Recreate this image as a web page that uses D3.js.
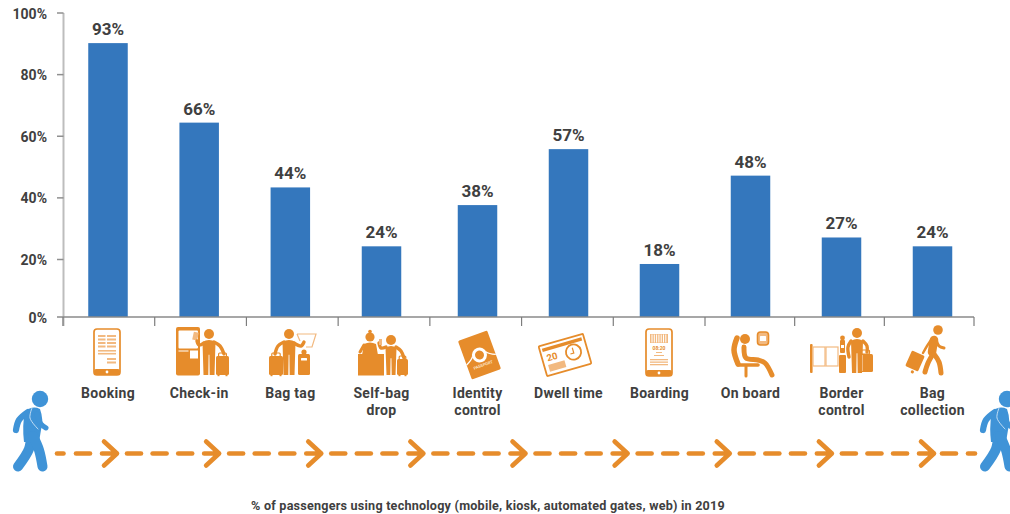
<!DOCTYPE html>
<html>
<head>
<meta charset="utf-8">
<script src="https://cdn.jsdelivr.net/npm/d3@7/dist/d3.min.js"></script>
<style>
  html, body { margin: 0; padding: 0; background: #fff; }
  svg { display: block; }
  text { font-family: Roboto, "Liberation Sans", sans-serif; font-weight: 700; fill: #404040; }
</style>
</head>
<body>
<div id="chart"></div>
<script>
// Passenger journey: share of passengers using technology at each step.
const categories = ["Booking", "Check-in", "Bag tag", "Self-bag drop", "Identity control",
  "Dwell time", "Boarding", "On board", "Border control", "Bag collection"];
const values = [93, 66, 44, 24, 38, 57, 18, 48, 27, 24];
const labelLines = [["Booking"], ["Check-in"], ["Bag tag"], ["Self-bag", "drop"], ["Identity", "control"],
  ["Dwell time"], ["Boarding"], ["On board"], ["Border", "control"], ["Bag", "collection"]];
const yTicks = [0, 20, 40, 60, 80, 100];
const caption = "% of passengers using technology (mobile, kiosk, automated gates, web) in 2019";
const journeySteps = [0, 1, 2, 3, 4, 5, 6, 7, 8];
const dashSlots = [1, 2, 3];

const ORANGE = "#e68c2b", PALE = "#f2b980", BAR = "#3477bd", WALKER = "#3f93d7";
const W = 1010, H = 514, BASE = 317, BAR_W = 39.5;

const svg = d3.select("#chart").append("svg").attr("width", W).attr("height", H);

// Scales: step centres, bar lengths, and the printed percentage axis.
const xIndex = d3.scaleLinear().domain([0, 3, 4, 9]).range([108, 381.5, 477.5, 932.5]);
const x = name => xIndex(categories.indexOf(name));
const yBar = d3.scaleLinear().domain([0, 100]).range([BASE, 22.5]);
const yAxis = d3.scaleLinear().domain([0, 20, 100]).range([BASE, 259.5, 13]);
const xTick = d3.scaleLinear().domain([0, 7, 10]).range([63, 705, 974]);

// Vertical axis
const axisL = svg.append("g");
axisL.append("line").attr("x1", 63.5).attr("x2", 63.5).attr("y1", 13).attr("y2", 326)
  .attr("stroke", "#bdbdbd").attr("stroke-width", 2);
axisL.selectAll("line.tick").data(yTicks.slice(1)).join("line").attr("class", "tick")
  .attr("x1", 57).attr("x2", 63.5).attr("y1", yAxis).attr("y2", yAxis)
  .attr("stroke", "#8f8f8f").attr("stroke-width", 1.5);
axisL.selectAll("text").data(yTicks).join("text")
  .attr("x", 47).attr("y", d => yAxis(d) + 0.5).attr("dy", "0.36em").attr("text-anchor", "end")
  .style("font-size", "14px").text(d => d + "%");

// Bars and their value labels
svg.selectAll("rect.bar").data(categories).join("rect").attr("class", "bar")
  .attr("x", d => x(d) - BAR_W / 2).attr("width", BAR_W)
  .attr("y", (d, i) => yBar(values[i])).attr("height", (d, i) => BASE - yBar(values[i]))
  .attr("fill", BAR);
svg.selectAll("text.val").data(categories).join("text").attr("class", "val")
  .attr("x", d => x(d)).attr("y", (d, i) => yBar(values[i]) - 8)
  .attr("text-anchor", "middle").style("font-size", "17px").text((d, i) => values[i] + "%");

// Horizontal baseline with ticks between the steps
svg.append("line").attr("x1", 57).attr("x2", 974).attr("y1", BASE).attr("y2", BASE)
  .attr("stroke", "#8a8a8a").attr("stroke-width", 1.5);
svg.selectAll("line.xt").data(d3.range(11)).join("line").attr("class", "xt")
  .attr("x1", xTick).attr("x2", xTick).attr("y1", BASE).attr("y2", 326)
  .attr("stroke", "#7d7d7d").attr("stroke-width", 1.2);

// Step names
const names = svg.selectAll("text.name").data(categories).join("text").attr("class", "name")
  .attr("text-anchor", "middle").style("font-size", "14px").style("letter-spacing", "0.3px")
  .attr("y", 398);
names.selectAll("tspan").data((d, i) => labelLines[i].map(t => ({ t, c: d }))).join("tspan")
  .attr("x", d => x(d.c))
  .attr("dy", (d, i) => i ? 17 : 0).text(d => d.t);

// Icon drawing helpers
const icons = svg.append("g");
const box = (x0, y0, w, h, r, fill, stroke, sw, g = icons) => g.append("rect")
  .attr("x", x0).attr("y", y0).attr("width", w).attr("height", h).attr("rx", r)
  .attr("fill", fill).attr("stroke", stroke || "none").attr("stroke-width", sw || 0);
const ln = (pts, w, col = ORANGE, g = icons) => g.append("path")
  .attr("d", d3.line().curve(d3.curveCatmullRom)(pts)).attr("fill", "none")
  .attr("stroke", col).attr("stroke-width", w).attr("stroke-linecap", "round").attr("stroke-linejoin", "round");
const dot = (cx, cy, r, col = ORANGE, g = icons) => g.append("circle")
  .attr("cx", cx).attr("cy", cy).attr("r", r).attr("fill", col);

function person(cx, top, bottom, arms, hw = 6.5) {
  dot(cx, top + 5, 5);
  const t = top + 11, hip = t + (bottom - t) * 0.42;
  icons.append("path").attr("fill", ORANGE).attr("d",
    `M${cx - hw},${t + 2} Q${cx},${t - 2} ${cx + hw},${t + 2} L${cx + hw - 1},${bottom}
     L${cx + 0.7},${bottom} L${cx + 0.4},${hip} L${cx - 0.4},${hip} L${cx - 0.7},${bottom}
     L${cx - hw + 1},${bottom} Z`);
  arms.forEach(a => ln(a, 3.4));
}
function suitcase(x0, y0, w, h) {
  box(x0, y0, w, h, 1.5, ORANGE);
  box(x0 + w * 0.2, y0 - 3, w * 0.6, 4, 1, "none", ORANGE, 1.2);
  box(x0 + 1.5, y0 + h, 2, 1.2, 0, ORANGE);
  box(x0 + w - 3.5, y0 + h, 2, 1.2, 0, ORANGE);
}
function phone(x0, y0, w, h) {
  box(x0, y0, w, h, 3, "#fff", ORANGE, 1.7);
  box(x0, y0 + h - 6, w, 6, 2, ORANGE);
  dot(x0 + w / 2, y0 + h - 3, 1.4, "#fff");
}

// Booking
phone(94, 329, 26, 46);
d3.range(4).forEach(i => { box(98, 335 + i * 3.5, 7.5, 2, 0, PALE); box(107, 335 + i * 3.5, 9, 2, 0, PALE); });
d3.range(2).forEach(i => box(98, 350 + i * 2.9, 18, 1.6, 0, PALE));
box(107, 358, 9, 2, 0, PALE); box(107, 361.5, 9, 2, 0, PALE);

// Check-in
box(176, 327, 24, 48.5, 2, ORANGE);
box(178.5, 330.5, 19.5, 18, 1, "#fff");
box(178.5, 350.5, 10, 1, 0, "#fff");
box(190, 350.5, 8, 8, 0, "#fff");
icons.append("rect").attr("x", 193).attr("y", 332).attr("width", 5).attr("height", 8)
  .attr("fill", PALE).attr("transform", "rotate(12 195 336)");
person(209, 329, 375, [[[204, 343], [199, 345], [197, 341]], [[214, 342], [220, 346], [224, 354]]]);
suitcase(216, 356, 13, 19);

// Bag tag
suitcase(269, 356, 14, 19);
person(289, 329, 375, [[[284, 342], [278, 346], [275, 354]], [[294, 343], [301, 346], [304, 342]]]);
icons.append("path").attr("fill", "none").attr("stroke", PALE).attr("stroke-width", 1.2)
  .attr("d", "M297,334 L316,334 L312,347 L306,347 M297,334 L300,341");
box(298, 354, 12, 21, 1.5, ORANGE);
dot(304, 352, 2.6);
box(301, 358, 6, 2.6, 0.5, "#fff");

// Self-bag drop
dot(370, 337, 4.6); dot(370, 331.5, 1.8);
icons.append("path").attr("fill", ORANGE).attr("d", "M362,355 L364,344 Q370,341 376,344 L378,355 Z");
ln([[364, 345], [360, 352]], 3);
box(358, 354, 26, 21.5, 0, ORANGE);
person(391, 335, 375, [[[386, 347], [381, 348], [379, 343]], [[396, 347], [401, 351], [404, 358]]], 5.5);
box(379, 339, 3, 6, 0, PALE);
suitcase(397, 359, 11, 16);

// Identity control: a tilted passport
const pass = icons.append("g").attr("transform", "translate(479.5,355) rotate(-20)");
box(-15.5, -20.5, 31, 41, 1.5, ORANGE, null, 0, pass);
pass.append("path").attr("fill", "none").attr("stroke", "#fff").attr("stroke-width", 1.3)
  .attr("d", "M-15.5,5 Q-9,2 -7,-1 M15.5,5 Q9,2 7,-1");
dot(0, 0, 7.5, "#fff", pass); dot(0, 0, 4.5, ORANGE, pass);
pass.append("text").attr("y", 12).attr("text-anchor", "middle").text("PASSPORT")
  .style("font-size", "4px").style("fill", "#fbe3c8");

// Dwell time: a tilted board with date and clock
const board = icons.append("g").attr("transform", "translate(565,355) rotate(-16)");
box(-23, -15.5, 46, 31, 1, "#fff", ORANGE, 1.8, board);
box(-20.5, -12.5, 41, 3.4, 0, ORANGE, null, 0, board);
board.append("text").attr("x", -13).attr("y", 1.5).attr("text-anchor", "middle").text("20")
  .style("font-size", "9.5px").style("fill", ORANGE);
board.append("circle").attr("cx", 9).attr("cy", -0.5).attr("r", 7.6).attr("fill", "#fff")
  .attr("stroke", ORANGE).attr("stroke-width", 1.8);
board.append("path").attr("fill", "none").attr("stroke", ORANGE).attr("stroke-width", 1.2)
  .attr("d", "M9,-5 L9,0.5 L5.5,0.5");
box(-19, 5, 17, 7, 0, PALE, null, 0, board);

// Boarding
phone(646, 329, 26, 47);
box(650, 334, 18, 9, 0, PALE);
d3.range(7).forEach(i => box(651.5 + i * 2.3, 334.5, 1, 8, 0, "#fff"));
icons.append("text").attr("x", 659).attr("y", 350).attr("text-anchor", "middle").text("08:20")
  .style("font-size", "5px").style("fill", ORANGE);
box(656, 352, 6, 1, 0, PALE); box(654, 355, 10, 1, 0, PALE);
d3.range(3).forEach(i => box(650, 359 + i * 2.5, 18, 1.3, 0, PALE));

// On board
ln([[737, 338], [734, 350], [738, 364]], 5.5);
ln([[738, 365], [758, 365]], 3.6);
ln([[746, 366], [746, 376]], 3);
dot(745, 339, 5);
ln([[744, 347], [746, 358], [758, 360], [765, 363], [772, 375]], 5);
icons.append("rect").attr("x", 757.5).attr("y", 332).attr("width", 11).attr("height", 13)
  .attr("rx", 3).attr("fill", PALE).attr("stroke", ORANGE).attr("stroke-width", 1.6);
box(760, 336, 6, 5, 0.5, "#fff");

// Border control
box(810, 344, 2.6, 29, 1, ORANGE);
box(813, 347, 12, 19, 0, "#fff", PALE, 1.2);
box(826, 347, 12, 19, 0, "#fff", PALE, 1.2);
box(839, 355, 7, 18, 1, ORANGE);
box(840, 340, 5, 13, 1, ORANGE); box(841, 345, 3, 3, 0, "#fff");
dot(842.5, 338, 2.4);
person(857, 328, 373, [[[851, 341], [848, 347], [849, 357]], [[863, 341], [867, 346], [867, 352]]], 6);
box(859, 354, 14, 18, 1.5, ORANGE);
box(861.5, 350, 8, 4, 1, "none", ORANGE, 1.2);
box(862, 355, 1, 16, 0, PALE);

// Bag collection
dot(938, 330, 4.8);
ln([[934, 340], [932, 352]], 8.5);
ln([[933, 354], [928, 363], [925, 372]], 5);
ln([[934, 354], [939, 362], [941, 373]], 5);
ln([[936, 339], [939, 346], [944, 348]], 3);
ln([[931, 340], [927, 346], [923, 353]], 2.4);
const bag = icons.append("g").attr("transform", "translate(915,361) rotate(24)");
box(-7, -8.5, 14, 17, 1.5, ORANGE, null, 0, bag);
dot(2, 11, 1.6, ORANGE, bag);

// Dashed journey arrow with a chevron at each step
const flow = svg.append("g").attr("fill", "none").attr("stroke", ORANGE)
  .attr("stroke-width", 4.6).attr("stroke-linecap", "round").attr("stroke-linejoin", "round");
const stepX = d3.scaleLinear().domain([0, 8]).range([117, 934]);
const FLOW_Y = 453.5;
flow.selectAll("path.chev").data(journeySteps).join("path").attr("class", "chev")
  .attr("d", d => `M${stepX(d) - 13},${FLOW_Y - 12} L${stepX(d)},${FLOW_Y} L${stepX(d) - 13},${FLOW_Y + 12} M${stepX(d) - 15},${FLOW_Y} L${stepX(d)},${FLOW_Y}`);
flow.selectAll("g.gap").data(journeySteps.slice(0, -1)).join("g").attr("class", "gap")
  .selectAll("line").data(d => dashSlots.map(s => ({ d, s }))).join("line")
  .attr("y1", FLOW_Y).attr("y2", FLOW_Y)
  .attr("x1", o => stepX(o.d) + 10 + (o.s - 1) * 25.6)
  .attr("x2", o => stepX(o.d) + 24 + (o.s - 1) * 25.6);
// Lead-in and lead-out dashes at each end of the walk
flow.selectAll("line.end").data([[57, 63.5], [76, 90], [942, 956], [968, 975]]).join("line").attr("class", "end")
  .attr("y1", FLOW_Y).attr("y2", FLOW_Y).attr("x1", d => d[0]).attr("x2", d => d[1]);

// Walking figures at both ends of the journey
function walker(dx) {
  const g = svg.append("g").attr("transform", `translate(${dx},0)`);
  dot(40, 399, 8.2, WALKER, g);
  g.append("path").attr("fill", WALKER).attr("d",
    "M25,412 Q32,405 40,409 Q44,420 41,430 L39,442 L24,442 Q22,425 25,412 Z");
  ln([[28, 412], [19, 420], [16, 430]], 6.2, WALKER, g);
  ln([[37, 414], [41, 424], [46, 428]], 5, WALKER, g);
  ln([[31, 436], [29, 449], [18, 466.5]], 10, WALKER, g);
  ln([[33, 436], [39, 450], [42.5, 466.5]], 10, WALKER, g);
  ln([[32, 408], [30, 418], [38, 429]], 0.9, "#cfe4f6", g);
}
walker(0);
walker(967);

// Caption
svg.append("text").attr("x", 488).attr("y", 510).attr("text-anchor", "middle")
  .style("font-size", "12.6px").style("letter-spacing", "0.22px").text(caption);
</script>
</body>
</html>
